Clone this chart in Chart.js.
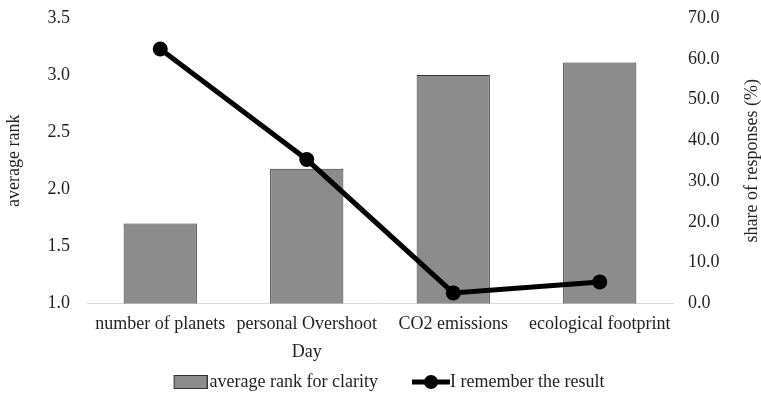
<!DOCTYPE html>
<html>
<head>
<meta charset="utf-8">
<script src="https://cdn.jsdelivr.net/npm/chart.js@4.4.1/dist/chart.umd.min.js"></script>
<style>
    html, body { margin: 0; padding: 0; background: #fff; }
    #wrap { width: 761px; height: 393px; position: relative; }
</style>
</head>
<body>
<div id="wrap"><canvas id="chart"></canvas></div>
<script>
// dados
const categories = ['number of planets', ['personal Overshoot', 'Day'], 'CO2 emissions', 'ecological footprint'];
const avgRank = [1.70, 2.18, 3.00, 3.11];
const rememberShare = [62.4, 35.3, 2.6, 5.3];
const leftTicks = [1.0, 1.5, 2.0, 2.5, 3.0, 3.5];
const rightTicks = [0, 10, 20, 30, 40, 50, 60, 70];

const FONT = 'Liberation Serif, Times New Roman, serif';
const FSIZE = 18;
const TEXT = '#1f1f1f';
const BAR_FILL = '#8c8c8c';
const BAR_EDGE = '#333333';

// swatches da legenda (parte visível encostada ao texto)
function barSwatch() {
    const c = document.createElement('canvas');
    c.width = 41; c.height = 14;
    const g = c.getContext('2d');
    g.fillStyle = BAR_FILL; g.fillRect(7.5, 0.5, 33, 13);
    g.strokeStyle = BAR_EDGE; g.lineWidth = 1; g.strokeRect(7.5, 0.5, 33, 13);
    return c;
}
function lineSwatch() {
    const c = document.createElement('canvas');
    c.width = 45; c.height = 16;
    const g = c.getContext('2d');
    g.strokeStyle = '#000'; g.lineWidth = 5;
    g.beginPath(); g.moveTo(7, 8); g.lineTo(45, 8); g.stroke();
    g.fillStyle = '#000'; g.beginPath(); g.arc(26, 8, 7, 0, Math.PI * 2); g.fill();
    return c;
}

// títulos dos eixos, ambos lidos de baixo para cima
const axisTitles = {
    id: 'axisTitles',
    afterDraw(chart) {
        const { ctx, chartArea } = chart;
        const midY = (chartArea.top + chartArea.bottom) / 2;
        ctx.save();
        ctx.font = FSIZE + 'px ' + FONT;
        ctx.fillStyle = TEXT;
        ctx.textAlign = 'center';
        ctx.textBaseline = 'middle';
        [[14, 'average rank'], [752, 'share of responses (%)']].forEach(([x, txt]) => {
            ctx.save();
            ctx.translate(x, midY);
            ctx.rotate(-Math.PI / 2);
            ctx.fillText(txt, 0, 0);
            ctx.restore();
        });
        ctx.restore();
    }
};

const noPad = s => { s.paddingTop = 0; s.paddingBottom = 0; s.paddingLeft = 0; s.paddingRight = 0; };

const ctx = document.getElementById('chart').getContext('2d');
new Chart(ctx, {
    data: {
        labels: categories,
        datasets: [
            {
                type: 'line', label: 'I remember the result', data: rememberShare, yAxisID: 'y2', order: 0,
                borderColor: '#000', backgroundColor: '#000', borderWidth: 5,
                pointRadius: 7.5, pointBorderWidth: 0, pointBackgroundColor: '#000',
                pointStyle: 'circle'
            },
            {
                type: 'bar', label: 'average rank for clarity', data: avgRank, yAxisID: 'y', order: 1,
                backgroundColor: BAR_FILL, borderColor: BAR_EDGE, borderWidth: 1,
                categoryPercentage: 1.0, barPercentage: 0.5
            }
        ]
    },
    options: {
        responsive: true, maintainAspectRatio: false,
        animation: false,
        layout: { padding: { top: 18, right: 0, left: 17, bottom: -8 } },
        plugins: {
            tooltip: { enabled: false },
            legend: {
                position: 'bottom',
                labels: {
                    color: TEXT, font: { family: FONT, size: FSIZE },
                    usePointStyle: true, pointStyleWidth: 27, padding: 0,
                    generateLabels(chart) {
                        return [
                            { text: 'average rank for clarity        ', pointStyle: barSwatch(), datasetIndex: 1, fontColor: TEXT, lineWidth: 0, strokeStyle: 'transparent', fillStyle: 'transparent' },
                            { text: 'I remember the result', pointStyle: lineSwatch(), datasetIndex: 0, fontColor: TEXT, lineWidth: 0, strokeStyle: 'transparent', fillStyle: 'transparent' }
                        ];
                    }
                }
            }
        },
        scales: {
            x: {
                afterFit: s => { noPad(s); s.height = 69.5; },
                grid: { display: false, drawTicks: false },
                border: { display: true, color: '#d9d9d9', width: 1 },
                ticks: { color: TEXT, font: { family: FONT, size: FSIZE, lineHeight: 1.6 }, padding: 6, maxRotation: 0, autoSkip: false }
            },
            y: {
                position: 'left', min: 1.0, max: 3.5,
                afterBuildTicks: s => { s.ticks = leftTicks.map(v => ({ value: v })); },
                afterFit: s => { noPad(s); s.width = 70; },
                grid: { display: false, drawTicks: false },
                border: { display: false },
                ticks: { color: TEXT, font: { family: FONT, size: FSIZE }, padding: 17, callback: v => Number(v).toFixed(1) }
            },
            y2: {
                position: 'right', min: 0, max: 70,
                afterBuildTicks: s => { s.ticks = rightTicks.map(v => ({ value: v })); },
                afterFit: s => { noPad(s); s.width = 88; },
                grid: { display: false, drawTicks: false },
                border: { display: false },
                ticks: { color: TEXT, font: { family: FONT, size: FSIZE }, padding: 15, callback: v => Number(v).toFixed(1) }
            }
        }
    },
    plugins: [axisTitles]
});
</script>
</body>
</html>
